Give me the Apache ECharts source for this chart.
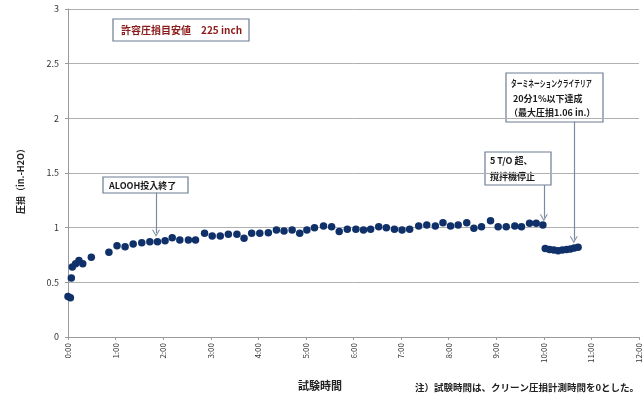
<!DOCTYPE html>
<html>
<head>
<meta charset="utf-8">
<script src="https://cdn.jsdelivr.net/npm/echarts@6/dist/echarts.min.js"></script>
<style>
html,body{margin:0;padding:0;background:#fff;}
#chart{width:643px;height:394px;}
</style>
</head>
<body>
<div id="chart"></div>
<script>
// Test time (hours) and pressure loss (in.-H2O)
const timeHours = [0.0, 0.05, 0.07, 0.09, 0.16, 0.23, 0.31, 0.49, 0.86, 1.03, 1.20, 1.37, 1.55, 1.72, 1.88, 2.04, 2.19, 2.35, 2.53, 2.68, 2.87, 3.03, 3.20, 3.37, 3.55, 3.70, 3.86, 4.03, 4.21, 4.38, 4.54, 4.71, 4.87, 5.02, 5.18, 5.37, 5.54, 5.70, 5.87, 6.05, 6.21, 6.36, 6.53, 6.69, 6.86, 7.02, 7.18, 7.37, 7.54, 7.72, 7.88, 8.04, 8.20, 8.38, 8.53, 8.69, 8.88, 9.04, 9.21, 9.39, 9.53, 9.70, 9.84, 9.98, 10.03, 10.12, 10.21, 10.30, 10.39, 10.48, 10.56, 10.64, 10.72];
const pressureLoss = [0.37, 0.36, 0.54, 0.64, 0.67, 0.70, 0.67, 0.73, 0.775, 0.835, 0.826, 0.85, 0.863, 0.872, 0.872, 0.88, 0.908, 0.887, 0.887, 0.887, 0.949, 0.924, 0.924, 0.94, 0.94, 0.903, 0.949, 0.949, 0.954, 0.979, 0.97, 0.979, 0.949, 0.979, 1.0, 1.015, 1.009, 0.965, 0.985, 0.985, 0.979, 0.985, 1.009, 1.0, 0.985, 0.979, 0.985, 1.015, 1.025, 1.015, 1.046, 1.015, 1.025, 1.046, 0.995, 1.009, 1.064, 1.009, 1.009, 1.015, 1.009, 1.04, 1.04, 1.025, 0.81, 0.80, 0.795, 0.79, 0.795, 0.80, 0.805, 0.815, 0.82];

// Axis ticks
const xTicks = [0, 1, 2, 3, 4, 5, 6, 7, 8, 9, 10, 11, 12];
const yTicks = [0, 0.5, 1, 1.5, 2, 2.5, 3];

// Texts
const yAxisName = '圧損（in.-H2O）';
const xAxisName = '試験時間';
const footnote = '注）試験時間は、クリーン圧損計測時間を0とした。';
const limitNote = '許容圧損目安値　225 inch';
const noteAlooh = ['ALOOH投入終了'];
const noteStop = ['5 T/O 超、', '撹拌機停止'];
const noteTerm = ['ターミネーションクライテリア', '20分1%以下達成', '（最大圧損1.06 in.）'];

// Arrow anchors (hours, in.-H2O): from, to
const arrowFrom = [[1.85, 1.32], [10.0, 1.39], [10.63, 1.97]];
const arrowTo = [[1.85, 0.95], [10.0, 1.09], [10.63, 0.89]];

const FONT = '"Noto Sans CJK JP", "Noto Sans", sans-serif';
const points = timeHours.map((t, i) => [t, pressureLoss[i]]);
const chevron = 'path://M0,10 L5,0 L10,10 L8.6,10 L5,2.8 L1.4,10 Z';

function box(x, y, w, h, lines, lineYs, tx, color, size, scales) {
  const children = [{
    type: 'rect',
    shape: { x: x, y: y, width: w, height: h },
    style: { fill: '#fff', stroke: '#6d7d91', lineWidth: 1.2 }
  }];
  lines.forEach((s, i) => {
    children.push({
      type: 'text',
      x: tx[i], y: lineYs[i],
      scaleX: scales ? scales[i] : 1,
      style: {
        x: 0, y: 0, text: s,
        font: 'bold ' + size + 'px ' + FONT,
        fill: color, verticalAlign: 'middle', align: 'left'
      }
    });
  });
  return { type: 'group', z: 10, children: children };
}

const chart = echarts.init(document.getElementById('chart'));
chart.setOption({
  animation: false,
  backgroundColor: '#fff',
  grid: { left: 68, top: 9, width: 576, height: 328, containLabel: false },
  xAxis: {
    type: 'value', min: xTicks[0], max: xTicks[xTicks.length - 1], interval: 1,
    axisLine: { show: true, lineStyle: { color: '#9a9a9a' } },
    axisTick: { show: true, length: 3, lineStyle: { color: '#9a9a9a' } },
    splitLine: { show: false },
    axisLabel: {
      rotate: 90, fontSize: 8, color: '#333', margin: 6, fontFamily: FONT,
      showMaxLabel: true,
      formatter: v => v + ':00'
    }
  },
  yAxis: {
    type: 'value', min: yTicks[0], max: yTicks[yTicks.length - 1], interval: 0.5,
    name: yAxisName, nameLocation: 'middle', nameRotate: 90, nameGap: 43,
    nameTextStyle: { fontSize: 9, fontWeight: 'bold', color: '#222', fontFamily: FONT, padding: [0, 12, 0, 0] },
    axisLine: { show: true, lineStyle: { color: '#9a9a9a' } },
    axisTick: { show: true, length: 3, lineStyle: { color: '#9a9a9a' } },
    splitLine: { show: true, lineStyle: { color: '#b0b0b0', width: 1 } },
    axisLabel: { fontSize: 9, color: '#333', margin: 9, fontFamily: FONT }
  },
  series: [{
    type: 'scatter',
    data: points,
    symbol: 'circle',
    symbolSize: 7.5,
    itemStyle: { color: '#10306a', opacity: 1 },
    z: 5,
    markLine: {
      silent: true,
      symbol: ['none', chevron],
      symbolSize: [8, 7],
      label: { show: false },
      lineStyle: { color: '#7a8aa2', width: 1.2, type: 'solid' },
      emphasis: { disabled: true },
      data: arrowFrom.map((f, i) => [{ coord: f }, { coord: arrowTo[i] }])
    }
  }],
  graphic: [
    box(113, 19, 136, 22, [limitNote], [30], [121], '#8b1a1a', 10),
    box(103, 177, 85, 16, noteAlooh, [185.5], [109], '#1a1a1a', 9),
    box(485, 152, 66, 33, noteStop, [161, 177], [490, 490], '#1a1a1a', 9),
    box(506, 73, 97, 49, noteTerm, [84, 98.5, 112.5], [511, 513, 509], '#1a1a1a', 9, [0.64, 1, 1]),
    { type: 'text', style: { x: 298, y: 386, text: xAxisName, font: 'bold 11px ' + FONT, fill: '#222', verticalAlign: 'middle' } },
    { type: 'text', style: { x: 415, y: 387, text: footnote, font: 'bold 9.5px ' + FONT, fill: '#222', verticalAlign: 'middle' } }
  ]
});
</script>
</body>
</html>
